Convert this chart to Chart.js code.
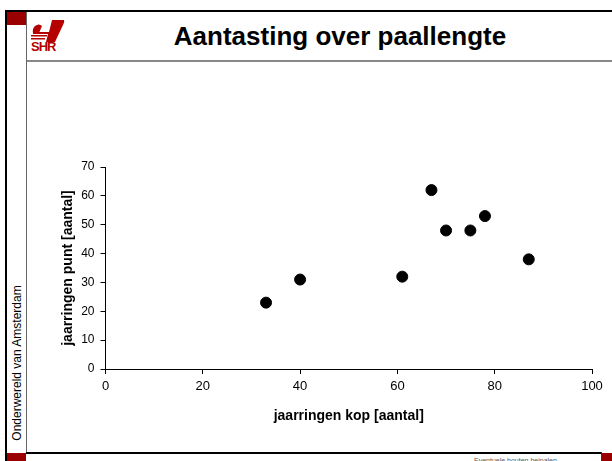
<!DOCTYPE html>
<html>
<head>
<meta charset="utf-8">
<script src="https://cdn.jsdelivr.net/npm/chart.js@4.4.0/dist/chart.umd.min.js"></script>
<style>
  html, body { margin: 0; padding: 0; background: #fff; width: 612px; height: 461px; overflow: hidden; }
  .abs { position: absolute; }
  #titel { left: 27px; width: 626px; top: 23px; text-align: center; font: bold 26px/26px "Liberation Sans", Arial, sans-serif; color: #000; }
  #zijtekst { left: 16.5px; top: 363px; transform: translate(-50%, -50%) rotate(-90deg); white-space: nowrap;
              font: 12px/12px "Liberation Sans", Arial, sans-serif; color: #000; }
  #voet { left: 474px; top: 457px; white-space: nowrap; font: 7px/7px "Liberation Sans", Arial, sans-serif; color: #555; }
  #logotekst { left: 31px; top: 40px; font: bold 13px/13px "Liberation Sans Narrow", "Liberation Sans", Arial, sans-serif;
               color: #b40000; letter-spacing: -1px; }
  #grafiek { left: 0; top: 0; width: 612px; height: 461px; }
</style>
</head>
<body>
<!-- kader van de dia -->
<div class="abs" style="left:5px;top:10px;width:607px;height:2px;background:#000"></div>
<div class="abs" style="left:5px;top:10px;width:2px;height:451px;background:#000"></div>
<div class="abs" style="left:7px;top:12px;width:19px;height:13px;background:#9b0000"></div>
<div class="abs" style="left:26px;top:12px;width:1px;height:441px;background:#666"></div>
<div class="abs" style="left:27px;top:60px;width:585px;height:2px;background:#888"></div>
<div class="abs" style="left:26px;top:452px;width:576px;height:2px;background:#000"></div>
<div class="abs" style="left:7px;top:453px;width:19px;height:8px;background:#9b0000"></div>
<div class="abs" style="left:601px;top:452px;width:1px;height:9px;background:#333"></div>
<div class="abs" style="left:602px;top:453px;width:10px;height:8px;background:#9b0000"></div>

<!-- logo -->
<svg class="abs" style="left:30px;top:20px" width="36" height="22" viewBox="0 0 36 22">
  <path d="M5 6 Q9 3 12 6 L9 13 L3 13 Q2 9 5 6 Z" fill="#b40000"/>
  <path d="M22 0 L34 0 Q35 2 33 5 L25 22 L16 22 L18 14 L3 14 L3 12 L19 12 Z" fill="#b40000"/>
  <rect x="1" y="15" width="16" height="1.5" fill="#b40000"/>
  <rect x="1" y="18" width="14" height="1.5" fill="#b40000"/>
</svg>
<div id="logotekst" class="abs">SHR</div>

<div id="titel" class="abs">Aantasting over paallengte</div>
<div id="zijtekst" class="abs">Onderwereld van Amsterdam</div>
<div id="voet" class="abs">Eventuele houten heipalen</div>

<div id="grafiek" class="abs"><canvas id="aantasting"></canvas></div>

<script>
  // jaarringen per paal
  const kop = [33, 40, 61, 67, 70, 75, 78, 87];
  const punt = [23, 31, 32, 62, 48, 48, 53, 38];
  const xTicks = [0, 20, 40, 60, 80, 100];
  const yTicks = [0, 10, 20, 30, 40, 50, 60, 70];

  const lettertype = '"Liberation Sans", Arial, sans-serif';
  Chart.defaults.font.family = lettertype;
  Chart.defaults.color = '#000';

  const punten = kop.map((x, i) => ({ x: x, y: punt[i] }));

  const ctx = document.getElementById('aantasting').getContext('2d');
  const chart_aantasting = new Chart(ctx, {
    type: 'scatter',
    data: {
      datasets: [{
        label: 'Aantasting',
        data: punten,
        pointStyle: 'circle',
        pointRadius: 5.5,
        pointBackgroundColor: '#000',
        pointBorderColor: '#000',
        pointBorderWidth: 1
      }]
    },
    options: {
      responsive: true,
      maintainAspectRatio: false,
      animation: false,
      layout: { padding: { top: 167, right: 20, bottom: 0, left: 0 } },
      plugins: {
        legend: { display: false },
        tooltip: { enabled: false }
      },
      scales: {
        x: {
          type: 'linear',
          min: xTicks[0],
          max: xTicks[xTicks.length - 1],
          afterBuildTicks: s => { s.ticks = xTicks.map(v => ({ value: v })); },
          afterFit: s => { s.height = 92; },
          grid: { drawOnChartArea: false, drawTicks: true, tickLength: 5, color: '#000' },
          border: { display: true, color: '#000', width: 1 },
          ticks: { padding: 5, maxRotation: 0, autoSkip: false, color: '#000', font: { size: 13 } },
          title: {
            display: true,
            text: 'jaarringen kop [aantal]',
            color: '#000',
            font: { size: 14, weight: 'bold' },
            padding: { top: 0, bottom: 36.6 }
          }
        },
        y: {
          type: 'linear',
          min: yTicks[0],
          max: yTicks[yTicks.length - 1],
          afterBuildTicks: s => { s.ticks = yTicks.map(v => ({ value: v })); },
          afterFit: s => { s.width = 105.5; },
          grid: { drawOnChartArea: false, drawTicks: true, tickLength: 5, color: '#000' },
          border: { display: true, color: '#000', width: 1 },
          ticks: { padding: 6, autoSkip: false, color: '#000', font: { size: 12 } },
          title: {
            display: true,
            text: 'jaarringen punt [aantal]',
            color: '#000',
            font: { size: 14, weight: 'bold' },
            padding: { top: 59.6, bottom: 0 }
          }
        }
      }
    }
  });
</script>
</body>
</html>
